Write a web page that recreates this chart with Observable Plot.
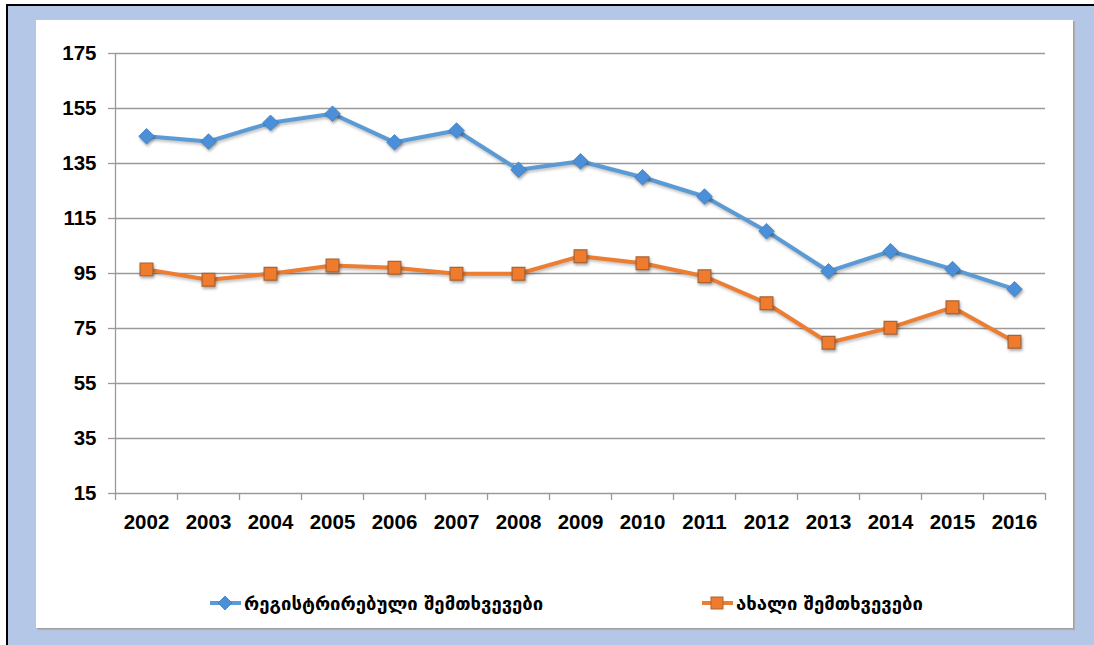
<!DOCTYPE html>
<html><head><meta charset="utf-8">
<script src="https://cdn.jsdelivr.net/npm/d3@7"></script>
<script src="https://cdn.jsdelivr.net/npm/@observablehq/plot@0.6"></script>
<style>
html,body{margin:0;padding:0;background:#fff;}
body{width:1094px;height:645px;overflow:hidden;position:relative;}
#frame{position:absolute;left:6px;top:4px;width:1086px;height:639px;border-left:2px solid #000;border-top:2px solid #000;background:#b4c7e7;}
#box{position:absolute;left:36px;top:20px;width:1037px;height:608px;background:#fff;box-shadow:1px 1px 0 #a0a0a0, 2px 2px 1px #b0b0b0;}
#chart{position:absolute;left:36px;top:20px;}
.leg{position:absolute;top:590px;height:26px;display:flex;align-items:center;font-family:"DejaVu Sans",sans-serif;font-weight:bold;font-size:18.5px;color:#000;white-space:nowrap;}
.leg svg{margin-right:2px;}
.mk path{filter:drop-shadow(1px 2px 1.5px rgba(0,0,0,0.35));}
.ln path{filter:drop-shadow(1px 2px 1.5px rgba(0,0,0,0.25));}
</style>
</head><body>
<div id="frame"></div>
<div id="box"></div>
<div id="chart"></div>
<div class="leg" id="leg1" style="left:209px;"></div>
<div class="leg" id="leg2" style="left:701px;"></div>
<script>
const years = [2002,2003,2004,2005,2006,2007,2008,2009,2010,2011,2012,2013,2014,2015,2016];
const registered = [144.9,143.0,149.8,153.1,142.7,147.0,132.7,135.8,130.0,123.0,110.4,95.8,103.1,96.6,89.3];
const newCases = [96.5,92.7,94.9,97.9,97.1,94.9,94.9,101.3,98.7,94.0,84.2,69.8,75.3,82.7,70.2];
const yTicks = [15,35,55,75,95,115,135,155,175];
const seriesNames = ["რეგისტრირებული შემთხვევები","ახალი შემთხვევები"];
const blue = "#5b9bd5", blueDot = "#4a8fd8";
const orange = "#ed7d31", orangeDot = "#f07b2c", orangeEdge = "#a86434";

const regData = years.map((y,i)=>({year:y, value:registered[i]}));
const newData = years.map((y,i)=>({year:y, value:newCases[i]}));
const bounds = [years[0]-0.5, ...years.map(y=>y+0.5)];

const font = '"Liberation Sans", Arial, sans-serif';
const chart = Plot.plot({
  width: 1037,
  height: 518,
  marginLeft: 79,
  marginRight: 28,
  marginTop: 33,
  marginBottom: 45,
  style: {fontFamily: font, fontSize: "20.5px", fontWeight: "bold", color: "#000", background: "transparent"},
  x: {type: "linear", domain: [years[0]-0.5, years[years.length-1]+0.5]},
  y: {domain: [15,175]},
  marks: [
    Plot.gridY(yTicks, {stroke: "#9a9a9a", strokeOpacity: 1, strokeWidth: 1.3}),
    Plot.axisY(yTicks, {tickSize: 7, tickPadding: 12, stroke: "#9a9a9a", strokeWidth: 1.3, label: null, fill: "#000"}),
    Plot.ruleX([years[0]-0.5], {stroke: "#9a9a9a", strokeWidth: 1.3}),
    Plot.axisX(bounds, {tickSize: 7, tickFormat: () => "", stroke: "#9a9a9a", strokeWidth: 1.3, label: null}),
    Plot.axisX(years, {tickSize: 0, tickPadding: 21, tickFormat: d => String(d), label: null, fill: "#000"}),
    Plot.lineY(regData, {x: "year", y: "value", stroke: blue, strokeWidth: 4, className: "ln"}),
    Plot.lineY(newData, {x: "year", y: "value", stroke: orange, strokeWidth: 4, className: "ln"}),
    Plot.dot(regData, {x: "year", y: "value", symbol: "diamond2", r: 7, fill: blueDot, stroke: "#3f80c6", strokeWidth: 0.8, className: "mk"}),
    Plot.dot(newData, {x: "year", y: "value", symbol: "square", r: 7.2, fill: orangeDot, stroke: orangeEdge, strokeWidth: 1.2, className: "mk"})
  ]
});
document.getElementById("chart").appendChild(chart);

function legendItem(el, name, color, fill, edge, kind){
  const mk = kind === "diamond"
    ? `<polygon points="16,4 23,11 16,18 9,11" fill="${fill}" stroke="#3f80c6" stroke-width="0.8"/>`
    : `<rect x="10" y="5" width="12" height="12" fill="${fill}" stroke="${edge}" stroke-width="1"/>`;
  el.innerHTML = `<svg width="33" height="22" viewBox="0 0 33 22"><line x1="1" y1="11" x2="32" y2="11" stroke="${color}" stroke-width="4"/>${mk}</svg><span>${name}</span>`;
}
legendItem(document.getElementById("leg1"), seriesNames[0], blue, blueDot, null, "diamond");
legendItem(document.getElementById("leg2"), seriesNames[1], orange, orangeDot, orangeEdge, "square");
</script>
</body></html>
